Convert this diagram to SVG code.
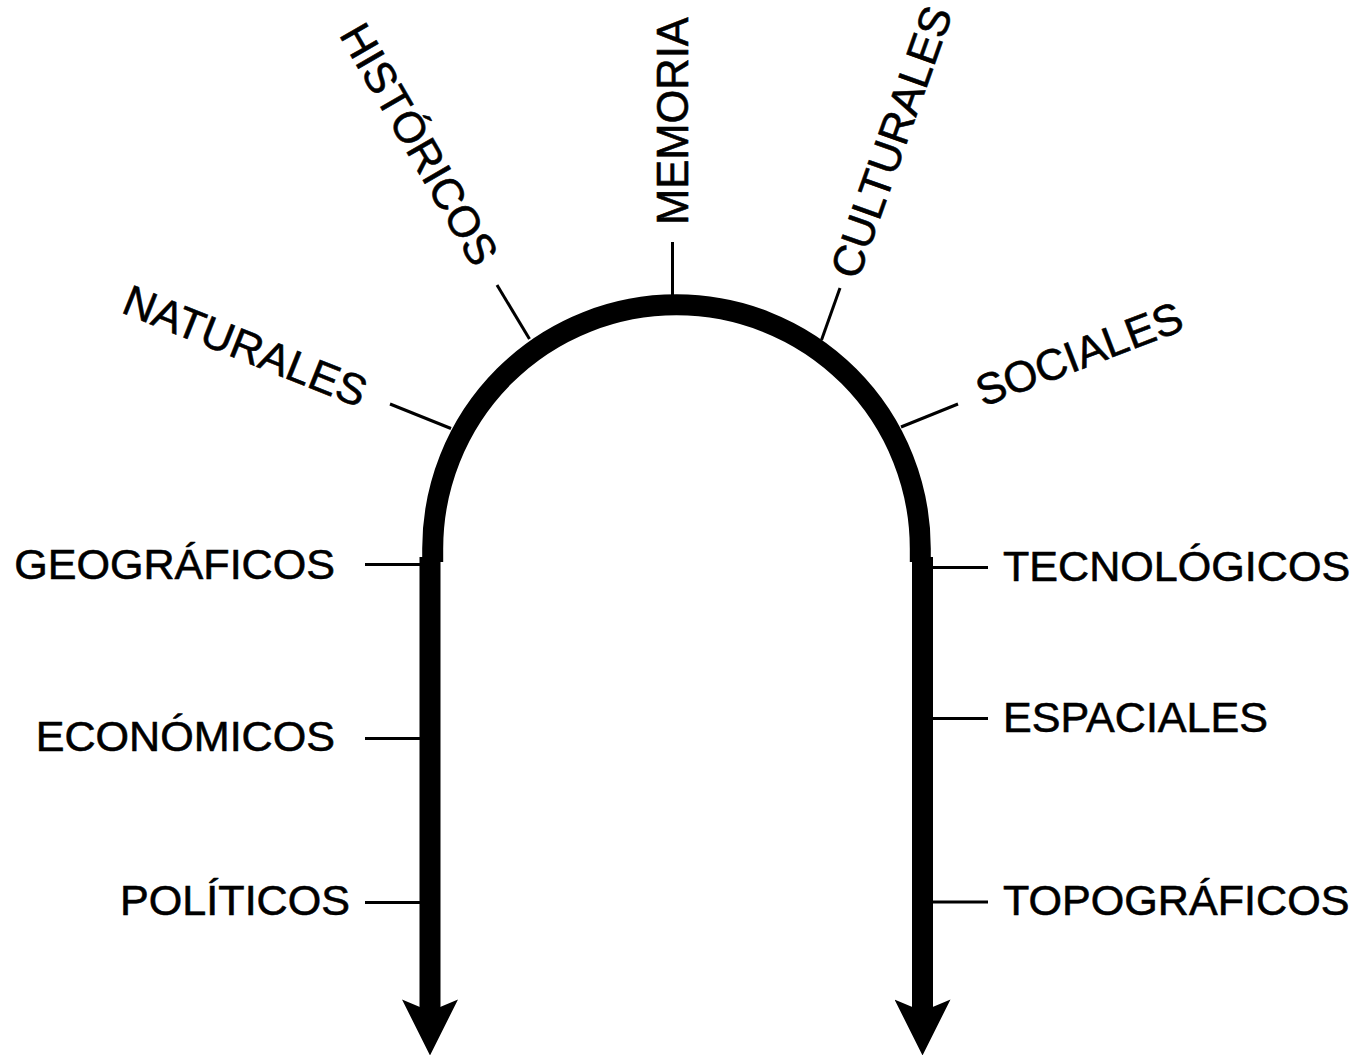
<svg xmlns="http://www.w3.org/2000/svg" width="1362" height="1055" viewBox="0 0 1362 1055">
<style>
.lbl{font-family:"Liberation Sans",Arial,Helvetica,sans-serif;font-size:43.5px;fill:#000;stroke:#000;stroke-width:0.6}
.h{font-size:43.1px}
.tick{stroke:#000;stroke-width:3;fill:none}
.main{stroke:#000;stroke-width:21;fill:none}
</style>
<defs>
<marker id="ah" markerUnits="userSpaceOnUse" markerWidth="56" markerHeight="56" viewBox="0 0 55 55" refX="30" refY="27.5" orient="auto">
<path d="M0,0 L55,27.5 L0,55 L11.5,27.5 Z" fill="#000"/>
</marker>
</defs>
<rect width="1362" height="1055" fill="#fff"/>
<g id="connectors">
<path class="main" d="M432.7,562 L432.7,548.5 A243.8,243.8 0 0 1 920.3,548.5 L920.3,562"/>
<path class="main" d="M430,557 L430,1030" marker-end="url(#ah)"/>
<path class="main" d="M922.5,557 L922.5,1030" marker-end="url(#ah)"/>
<line class="tick" x1="672.5" y1="242" x2="672.5" y2="296"/>
<line class="tick" x1="390" y1="404" x2="451" y2="428.5"/>
<line class="tick" x1="497" y1="285" x2="529.5" y2="339"/>
<line class="tick" x1="840" y1="288" x2="821.5" y2="340"/>
<line class="tick" x1="958" y1="404" x2="901" y2="427"/>
<line class="tick" x1="365" y1="564.5" x2="421" y2="564.5"/>
<line class="tick" x1="365" y1="738.5" x2="421" y2="738.5"/>
<line class="tick" x1="365" y1="902.5" x2="421" y2="902.5"/>
<line class="tick" x1="932" y1="567.5" x2="988" y2="567.5"/>
<line class="tick" x1="932" y1="718.5" x2="988" y2="718.5"/>
<line class="tick" x1="932" y1="902" x2="988" y2="902"/>
</g>
<g id="n-memoria"><text class="lbl" transform="translate(688,225) rotate(-90)">MEMORIA</text></g>
<g id="n-historicos"><text class="lbl" transform="translate(338.5,34.5) rotate(60)">HISTÓRICOS</text></g>
<g id="n-naturales"><text class="lbl" transform="translate(120,312) rotate(21.8)">NATURALES</text></g>
<g id="n-culturales"><text class="lbl" transform="translate(858,281) rotate(-70.5)">CULTURALES</text></g>
<g id="n-sociales"><text class="lbl" transform="translate(983,407) rotate(-21)">SOCIALES</text></g>
<g id="n-geograficos"><text class="lbl h" x="335" y="579" text-anchor="end">GEOGRÁFICOS</text></g>
<g id="n-economicos"><text class="lbl h" x="335" y="751" text-anchor="end">ECONÓMICOS</text></g>
<g id="n-politicos"><text class="lbl h" x="350" y="915" text-anchor="end">POLÍTICOS</text></g>
<g id="n-tecnologicos"><text class="lbl h" x="1003" y="581">TECNOLÓGICOS</text></g>
<g id="n-espaciales"><text class="lbl h" x="1003" y="732">ESPACIALES</text></g>
<g id="n-topograficos"><text class="lbl h" x="1003" y="915">TOPOGRÁFICOS</text></g>
</svg>
